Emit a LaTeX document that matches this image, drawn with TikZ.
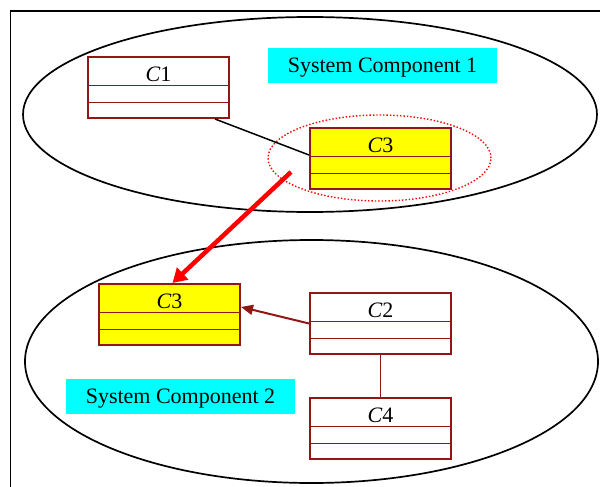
\documentclass[tikz,border=0pt]{standalone}
\usepackage{fontspec}
\setmainfont{Liberation Serif}
\usetikzlibrary{shapes.geometric,arrows.meta,calc}
\definecolor{boxred}{RGB}{145,22,22}
\definecolor{labelcyan}{RGB}{0,255,255}
\definecolor{classyellow}{RGB}{255,255,0}
\tikzset{
  classbox/.style={draw=boxred, line width=2pt, fill=white, rectangle,
    minimum width=141pt, minimum height=61pt, inner sep=0pt, anchor=north west},
  hotclass/.style={classbox, fill=classyellow},
  divider/.style={draw=boxred, line width=1.8pt},
  classname/.style={font=\fontsize{22}{26}\selectfont, inner sep=0pt},
  component/.style={draw=black, line width=1.7pt, ellipse, inner sep=0pt},
  complabel/.style={fill=labelcyan, minimum width=229pt, minimum height=35pt,
    inner sep=0pt, text depth=0pt, font=\fontsize{22}{26}\selectfont},
  shared/.style={draw=red, dotted, line width=1.4pt, ellipse, inner sep=0pt},
  assoc/.style={draw=black, line width=1.5pt},
  depend/.style={draw=boxred, line width=2pt, -{Triangle[width=10pt,length=12pt]}},
  moveto/.style={draw=red, line width=4.5pt, -{Triangle[width=16pt,length=14pt]}},
}
% one class box with its name and two empty compartments
\newcommand\umlclass[4]{%
  \node[#1] (#2) at (#3) {};
  \node[classname] at ([yshift=-18pt]#2.north) {\textit{C}#4};
  \draw[divider] ([yshift=-29.5pt]#2.north west) -- ([yshift=-29.5pt]#2.north east);
  \draw[divider] ([yshift=-46.5pt]#2.north west) -- ([yshift=-46.5pt]#2.north east);
}
\begin{document}
\begin{tikzpicture}[x=1pt,y=-1pt]
\useasboundingbox (0,0) rectangle (600,487);
% page frame
\draw[line width=1.5pt] (10.5,487) -- (10.5,11) -- (600,11);

% system components
\node[component, minimum width=574pt, minimum height=195pt] (sys1) at (310,114.5) {};
\node[component, minimum width=573pt, minimum height=243pt] (sys2) at (311.5,361.5) {};
\node[complabel] (lab1) at (382.5,65.5) {System Component 1};
\node[complabel] (lab2) at (180.5,396) {System Component 2};

% shared class region
\node[shared, minimum width=223pt, minimum height=86pt] (region) at (379.5,158) {};

% classes
\umlclass{classbox}{c1}{87,56}{1}
\umlclass{hotclass}{c3a}{309,127}{3}
\umlclass{hotclass}{c3b}{98,283}{3}
\umlclass{classbox}{c2}{309,292}{2}
\umlclass{classbox}{c4}{309,397}{4}

% connectors
\draw[assoc] ([xshift=-15pt]c1.south east) -- ([yshift=3.5pt]c3a.west);
\draw[divider] (c2.south) -- (c4.north);
\draw[depend] (c2.west) -- ([yshift=7.5pt]c3b.east);
\coordinate (movefrom) at (291,172);
\draw[moveto] (movefrom) -- ([xshift=3pt]c3b.north);
\end{tikzpicture}
\end{document}
